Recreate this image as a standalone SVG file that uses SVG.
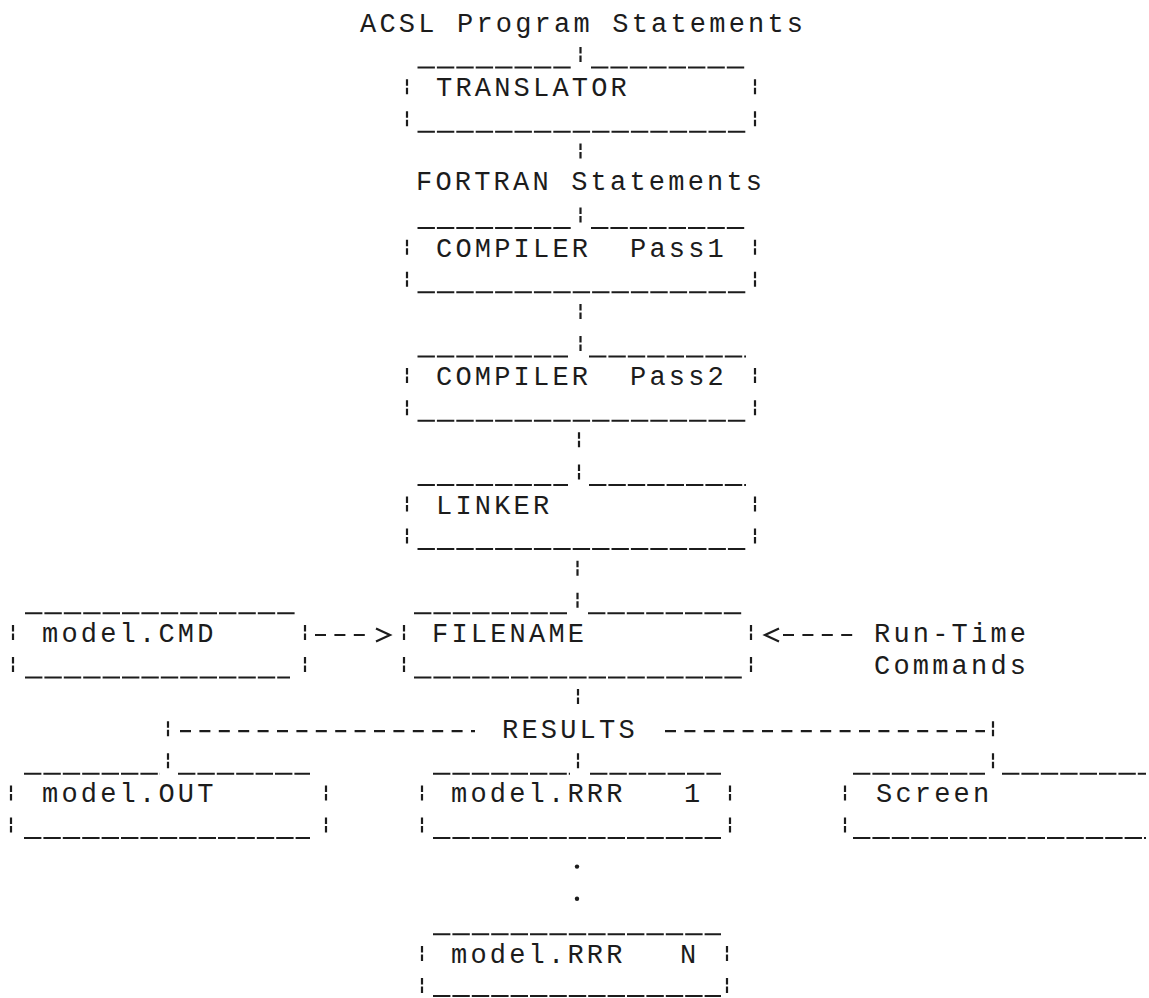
<svg xmlns="http://www.w3.org/2000/svg" width="1149" height="998" viewBox="0 0 1149 998">
<style>
  text { font-family: "Liberation Mono", "DejaVu Sans Mono", monospace; font-size: 27px; letter-spacing: 3.2px; fill: #1c1c1c; }
  .u { stroke: #1c1c1c; stroke-width: 2; stroke-dasharray: 17.4 2; fill: none; }
  .side { stroke: #1c1c1c; stroke-width: 2.2; stroke-dasharray: 6.5 2 6.5 17.1; fill: none; }
  .bar { stroke: #1c1c1c; stroke-width: 2.2; stroke-dasharray: 6.5 2; fill: none; }
  .hy { stroke: #1c1c1c; stroke-width: 2.2; stroke-dasharray: 11 8.4; fill: none; }
  .chev { stroke: #1c1c1c; stroke-width: 2.2; fill: none; }
  .dot { fill: #1c1c1c; }
</style>
<rect width="1149" height="998" fill="#ffffff"/>

<g id="title">
  <text x="360" y="32">ACSL Program Statements</text>
</g>

<g id="translator">
  <line class="u" x1="417.5" y1="67.6" x2="571" y2="67.6"/>
  <line class="u" x1="591" y1="67.6" x2="746" y2="67.6"/>
  <line class="side" x1="407" y1="79.2" x2="407" y2="126.3"/>
  <line class="side" x1="755" y1="79.2" x2="755" y2="126.3"/>
  <line class="u" x1="417.5" y1="131.8" x2="746" y2="131.8"/>
  <text x="436" y="96.2">TRANSLATOR</text>
</g>

<g id="fortran">
  <text x="416" y="190">FORTRAN Statements</text>
</g>

<g id="compiler1">
  <line class="u" x1="417.5" y1="228.1" x2="571" y2="228.1"/>
  <line class="u" x1="591" y1="228.1" x2="746" y2="228.1"/>
  <line class="side" x1="407" y1="239.7" x2="407" y2="286.8"/>
  <line class="side" x1="755" y1="239.7" x2="755" y2="286.8"/>
  <line class="u" x1="417.5" y1="292.3" x2="746" y2="292.3"/>
  <text x="436" y="256.7">COMPILER</text>
  <text x="630" y="256.7">Pass1</text>
</g>

<g id="compiler2">
  <line class="u" x1="417.5" y1="356.5" x2="568" y2="356.5"/>
  <line class="u" x1="589" y1="356.5" x2="746" y2="356.5"/>
  <line class="side" x1="407" y1="368.1" x2="407" y2="415.2"/>
  <line class="side" x1="755" y1="368.1" x2="755" y2="415.2"/>
  <line class="u" x1="417.5" y1="420.7" x2="746" y2="420.7"/>
  <text x="436" y="385.1">COMPILER</text>
  <text x="630" y="385.1">Pass2</text>
</g>

<g id="linker">
  <line class="u" x1="417.5" y1="484.9" x2="568" y2="484.9"/>
  <line class="u" x1="589" y1="484.9" x2="746" y2="484.9"/>
  <line class="side" x1="407" y1="496.5" x2="407" y2="543.6"/>
  <line class="side" x1="755" y1="496.5" x2="755" y2="543.6"/>
  <line class="u" x1="417.5" y1="549.1" x2="746" y2="549.1"/>
  <text x="436" y="513.5">LINKER</text>
</g>

<g id="model_cmd">
  <line class="u" x1="25" y1="613.3" x2="295" y2="613.3"/>
  <line class="side" x1="13" y1="624.9" x2="13" y2="672"/>
  <line class="side" x1="305" y1="624.9" x2="305" y2="672"/>
  <line class="u" x1="25" y1="677.5" x2="290" y2="677.5"/>
  <text x="42" y="641.9">model.CMD</text>
</g>

<g id="filename">
  <line class="u" x1="414" y1="613.3" x2="567" y2="613.3"/>
  <line class="u" x1="588" y1="613.3" x2="742" y2="613.3"/>
  <line class="side" x1="404" y1="624.9" x2="404" y2="672"/>
  <line class="side" x1="751" y1="624.9" x2="751" y2="672"/>
  <line class="u" x1="414" y1="677.5" x2="742" y2="677.5"/>
  <text x="432" y="641.9">FILENAME</text>
</g>

<g id="run_time_commands">
  <text x="874" y="641.9">Run-Time</text>
  <text x="874" y="674">Commands</text>
</g>

<g id="results">
  <text x="502" y="738.2">RESULTS</text>
</g>

<g id="model_out">
  <line class="u" x1="24" y1="773.8" x2="160" y2="773.8"/>
  <line class="u" x1="178" y1="773.8" x2="310" y2="773.8"/>
  <line class="side" x1="11" y1="785.4" x2="11" y2="832.5"/>
  <line class="side" x1="326" y1="785.4" x2="326" y2="832.5"/>
  <line class="u" x1="24" y1="838" x2="310" y2="838"/>
  <text x="42" y="802.4">model.OUT</text>
</g>

<g id="model_rrr_1">
  <line class="u" x1="433" y1="773.8" x2="570" y2="773.8"/>
  <line class="u" x1="590" y1="773.8" x2="721" y2="773.8"/>
  <line class="side" x1="422" y1="785.4" x2="422" y2="832.5"/>
  <line class="side" x1="730" y1="785.4" x2="730" y2="832.5"/>
  <line class="u" x1="433" y1="838" x2="721" y2="838"/>
  <text x="451" y="802.4">model.RRR</text>
  <text x="684" y="802.4">1</text>
</g>

<g id="screen">
  <line class="u" x1="853" y1="773.8" x2="985" y2="773.8"/>
  <line class="u" x1="1002" y1="773.8" x2="1146" y2="773.8"/>
  <line class="side" x1="845" y1="785.4" x2="845" y2="832.5"/>
  <line class="u" x1="853" y1="838" x2="1146" y2="838"/>
  <text x="876" y="802.4">Screen</text>
</g>

<g id="model_rrr_n">
  <line class="u" x1="433" y1="934.3" x2="721" y2="934.3"/>
  <line class="side" x1="422" y1="945.9" x2="422" y2="993"/>
  <line class="side" x1="727" y1="945.9" x2="727" y2="993"/>
  <line class="u" x1="433" y1="996" x2="721" y2="996"/>
  <text x="451" y="962.9">model.RRR</text>
  <text x="680" y="962.9">N</text>
</g>

<g id="connectors">
  <!-- main spine -->
  <line class="bar" x1="580.5" y1="47.1" x2="580.5" y2="62.1"/>
  <line class="bar" x1="580.5" y1="143.4" x2="580.5" y2="158.4"/>
  <line class="bar" x1="580.5" y1="207.6" x2="580.5" y2="222.6"/>
  <line class="bar" x1="580.5" y1="303.9" x2="580.5" y2="318.9"/>
  <line class="bar" x1="580.5" y1="336" x2="580.5" y2="351"/>
  <line class="bar" x1="579" y1="432.3" x2="579" y2="447.3"/>
  <line class="bar" x1="579" y1="464.4" x2="579" y2="479.4"/>
  <line class="bar" x1="577.5" y1="560.7" x2="577.5" y2="575.7"/>
  <line class="bar" x1="577.5" y1="592.8" x2="577.5" y2="607.8"/>
  <line class="bar" x1="578" y1="689.1" x2="578" y2="704.1"/>
  <!-- model.CMD to FILENAME -->
  <line class="hy" x1="315" y1="635" x2="370" y2="635"/>
  <polyline class="chev" points="376,628.5 390,635 376,641.5"/>
  <!-- Run-Time Commands to FILENAME -->
  <polyline class="chev" points="779,628.5 765,635 779,641.5"/>
  <line class="hy" x1="783" y1="635" x2="860" y2="635"/>
  <!-- RESULTS distribution line -->
  <line class="bar" x1="168" y1="721.2" x2="168" y2="736.2"/>
  <line class="hy" x1="180" y1="731.2" x2="475" y2="731.2"/>
  <line class="hy" x1="665" y1="731.2" x2="985" y2="731.2"/>
  <line class="bar" x1="993" y1="721.2" x2="993" y2="736.2"/>
  <line class="bar" x1="168" y1="753.3" x2="168" y2="768.3"/>
  <line class="bar" x1="578" y1="753.3" x2="578" y2="768.3"/>
  <line class="bar" x1="993" y1="753.3" x2="993" y2="768.3"/>
  <!-- continuation dots -->
  <circle class="dot" cx="577" cy="866.6" r="2.2"/>
  <circle class="dot" cx="577" cy="898.7" r="2.2"/>
</g>
</svg>
